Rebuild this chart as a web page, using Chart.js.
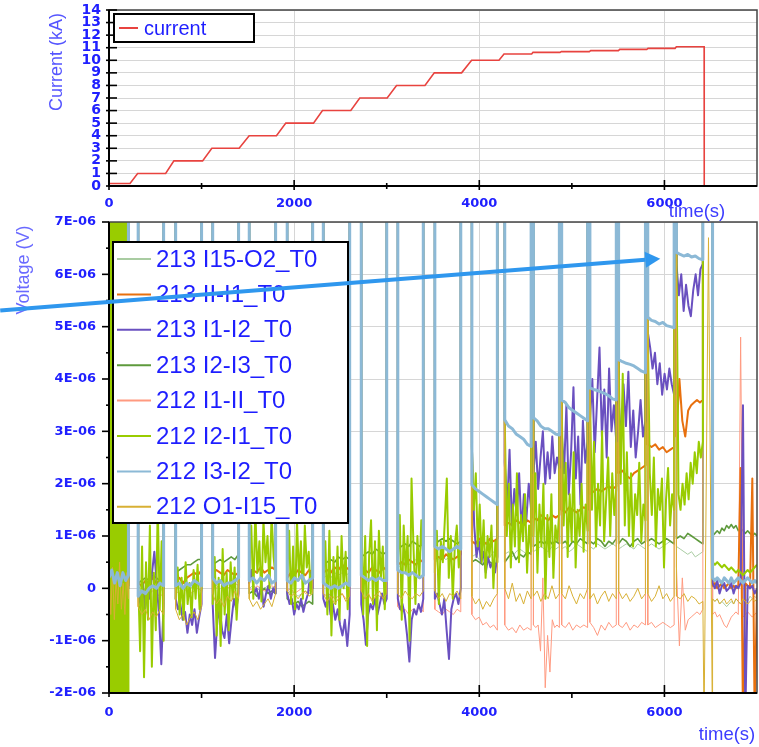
<!DOCTYPE html>
<html>
<head>
<meta charset="utf-8">
<script src="https://cdn.jsdelivr.net/npm/chart.js@4.4.1/dist/chart.umd.min.js"></script>
<style>
  body { margin: 0; background: #fff; }
  #wrap { position: relative; width: 759px; height: 747px; }
  canvas { position: absolute; left: 0; }
  #currentChart { top: 0; }
  #voltageChart { top: 214px; }
</style>
</head>
<body>
<div id="wrap">
  <canvas id="currentChart" width="759" height="225"></canvas>
  <canvas id="voltageChart" width="759" height="533"></canvas>
</div>
<script>
// ---- coil current (kA) ----
const currentTime = [0, 227, 309, 612, 701, 1011, 1111, 1406, 1514, 1809, 1910, 2209, 2306, 2612, 2709,
  3005, 3106, 3413, 3514, 3809, 3917, 4213, 4267, 4566, 4580, 4872, 4886, 5189, 5203, 5503, 5517,
  5809, 5823, 6115, 6129, 6429, 6430];
const currentKA = [0.2, 0.2, 1, 1, 2, 2, 3, 3, 4, 4, 5, 5, 6, 6, 7,
  7, 8, 8, 9, 9, 10, 10, 10.5, 10.5, 10.63, 10.63, 10.69, 10.69, 10.77, 10.77, 10.87,
  10.87, 10.95, 10.95, 11.08, 11.08, 0];

// ---- voltage taps (values in µV) ----
// flat-top plateaus between current ramps, last one is after the dump
const segStart = [0, 315, 720, 1120, 1515, 1925, 2315, 2725, 3120, 3520, 3920, 4275, 4585, 4890, 5195, 5505, 5820, 6130, 6520];
const segEnd   = [210, 590, 1000, 1400, 1800, 2200, 2600, 3000, 3395, 3800, 4195, 4560, 4865, 5170, 5480, 5795, 6105, 6415, 7000];
const offScale = 40; // saturated reading while ramping

const v213_I15_O2 = [
  [0.05, -0.05, 0.1, 0.0, -0.1, 0.05, 0.0, -0.05],
  [0.0, 0.05, -0.05, 0.0, 0.05, 0.0, -0.05, 0.0],
  [0.05, 0.0, 0.1, 0.05, 0.0, 0.05, 0.1, 0.05],
  [0.1, 0.05, 0.15, 0.1, 0.05, 0.1, 0.15, 0.1],
  [0.0, 0.05, 0.0, -0.05, 0.0, 0.05, 0.0, 0.05],
  [-0.1, -0.05, -0.1, -0.15, -0.1, -0.05, -0.1, -0.05],
  [0.2, 0.25, 0.2, 0.3, 0.25, 0.3, 0.25, 0.3],
  [0.3, 0.35, 0.3, 0.4, 0.35, 0.3, 0.35, 0.4],
  [0.4, 0.45, 0.5, 0.45, 0.5, 0.55, 0.5, 0.55],
  [0.5, 0.55, 0.6, 0.55, 0.6, 0.55, 0.6, 0.65],
  [0.6, 0.65, 0.55, 0.6, 0.65, 0.6, 0.7, 0.65],
  [0.65, 0.7, 0.6, 0.7, 0.75, 0.7, 0.65, 0.7],
  [0.7, 0.75, 0.8, 0.75, 0.7, 0.8, 0.75, 0.8],
  [0.75, 0.8, 0.7, 0.75, 0.85, 0.8, 0.75, 0.7],
  [0.8, 0.75, 0.85, 0.8, 0.75, 0.8, 0.85, 0.8],
  [0.75, 0.8, 0.85, 0.8, 0.75, 0.85, 0.8, 0.75],
  [0.8, 0.85, 0.8, 0.75, 0.8, 0.85, 0.9, 0.85],
  [0.8, 0.75, 0.7, 0.65, 0.7, 0.6, 0.65, 0.7],
  [-0.2, -0.25, -0.2, -0.3, -0.25, -0.3, -0.35, -0.3, -0.25, -0.3, -0.2, -0.25, -0.3, -0.25, -0.2, -0.25, -0.15, -0.2, -0.15, -0.2]
];
const v213_II_I1 = [
  [0.1, -0.1, 0.2, 0.0, 0.1, -0.05, 0.15, 0.05],
  [0.1, 0.05, 0.15, 0.1, 0.2, 0.1, 0.15, 0.1],
  [0.15, 0.2, 0.1, 0.2, 0.25, 0.3, 0.25, 0.35],
  [0.3, 0.35, 0.3, 0.25, 0.35, 0.3, 0.25, 0.3],
  [0.25, 0.35, 0.3, 0.4, 0.3, 0.35, 0.4, 0.35],
  [0.2, 0.3, 0.25, 0.35, 0.3, 0.25, 0.35, 0.3],
  [0.3, 0.35, 0.3, 0.4, 0.35, 0.45, 0.4, 0.35],
  [0.3, 0.35, 0.3, 0.4, 0.35, 0.3, 0.4, 0.35],
  [0.45, 0.5, 0.45, 0.55, 0.5, 0.45, 0.55, 0.5],
  [0.55, 0.6, 0.55, 0.65, 0.6, 0.55, 0.6, 0.65],
  [0.9, 0.85, 0.95, 0.9, 0.85, 0.95, 0.9, 0.95],
  [1.2, 1.25, 1.2, 1.3, 1.25, 1.2, 1.3, 1.25],
  [1.35, 1.3, 1.4, 1.35, 1.3, 1.4, 1.35, 1.4],
  [1.5, 1.45, 1.55, 1.5, 1.45, 1.5, 1.55, 1.5],
  [1.8, 1.85, 1.9, 1.85, 1.9, 1.95, 1.9, 1.95],
  [2.2, 2.25, 2.15, 2.1, 2.2, 2.25, 2.3, 2.35],
  [2.75, 2.7, 2.75, 2.65, 2.7, 2.6, 2.65, 2.7],
  [2.9, 4.0, 3.2, 2.9, 3.4, 3.5, 3.55, 3.6, 3.55, 3.6],
  [0.05, 0.1, 0.0, 0.05, 0.1, 0.0, 0.05, 0.1, 0.0, 0.05, 0.0, 0.05, 2.3, -2.5, 0.1, 0.05, 0.0, 2.1, -2.5, 0.0]
];
const v213_I1_I2 = [
  [0.3, -0.5, 0.6, -0.8, 0.4, -0.3, 0.7, -0.6, 0.2, -0.4, 0.5, 0.0],
  [-0.1, -0.3, 0.1, -0.4, 0.0, -0.2, 0.3, 0.7, 0.1, -0.5, -1.45, -0.3],
  [-0.2, -0.4, -0.3, -0.6, -0.45, -0.85, -0.5, -0.7, -0.4, -0.85, -0.55, -0.3],
  [-0.3, -1.33, -0.6, -0.4, -0.8, -0.95, -0.5, -1.05, -0.6, -0.2, -0.4, -0.1],
  [0.1, 0.35, -0.1, 0.0, -0.2, 0.1, -0.35, -0.1, 0.05, -0.2, 0.0, -0.1],
  [-0.1, -0.3, -0.2, -0.5, -0.3, -0.4, -0.2, -0.45, -0.25, -0.1, 0.3, 0.0],
  [-0.2, -0.35, -0.1, -0.5, -0.3, -0.6, -0.4, -0.7, -0.9, -0.6, -1.1, -0.5],
  [-0.3, -0.6, -1.08, -0.5, -0.3, -0.4, -0.2, -0.5, -0.3, -0.1, -0.3, -0.2],
  [-0.2, -0.4, -0.3, -0.5, -0.9, -1.4, -0.6, -0.4, -0.5, -0.3, -0.45, -0.2],
  [-0.2, -0.1, -0.3, -0.5, -0.2, -0.8, -1.35, -0.4, -0.2, -0.1, -0.3, 0.0],
  [2.7, 1.2, 0.6, 0.9, 0.5, 0.7, 0.3, 0.6, 0.4, 0.5, 0.3, 0.6],
  [2.4, 1.5, 2.65, 1.2, 1.9, 1.4, 2.2, 1.1, 1.8, 1.3, 2.0, 1.5],
  [2.2, 2.8, 1.9, 2.5, 3.0, 2.0, 2.6, 2.1, 2.9, 2.2, 2.5, 2.3],
  [3.0, 2.2, 3.5, 1.8, 2.6, 3.84, 2.1, 2.9, 1.6, 3.2, 2.4, 2.8],
  [3.2, 4.0, 2.6, 3.6, 4.6, 2.9, 3.8, 2.5, 4.2, 3.0, 3.5, 2.8],
  [3.6, 2.8, 3.9, 3.1, 4.14, 2.7, 3.4, 2.5, 3.0, 3.6, 2.9, 3.2],
  [4.9, 4.6, 4.2, 4.5, 3.9, 4.3, 3.7, 4.1, 3.8, 4.2, 3.9, 3.7],
  [6.2, 5.6, 6.0, 5.3, 5.8, 5.4, 5.2, 5.7, 6.0, 5.6, 6.1, 6.2],
  [0.1, 0.0, 0.15, -0.1, 0.05, 0.1, -0.05, 0.0, 0.1, -0.1, 0.05, 0.0, 0.1, 3.5, -2.5, 0.05, 0.0, 0.05, -0.1, 0.0]
];
const v213_I2_I3 = [
  [0.1, -0.2, 0.3, 0.0, -0.1, 0.2, 0.0, 0.1],
  [0.1, 0.15, 0.2, 0.15, 0.25, 0.2, 0.15, 0.2],
  [0.3, 0.35, 0.4, 0.45, 0.45, 0.5, 0.55, 0.55],
  [0.45, 0.5, 0.55, 0.5, 0.55, 0.6, 0.55, 0.65],
  [-0.1, -0.05, -0.15, -0.1, 0.0, -0.1, -0.05, -0.1],
  [-0.2, -0.25, -0.3, -0.25, -0.35, -0.3, -0.25, -0.3],
  [0.45, 0.5, 0.55, 0.5, 0.6, 0.55, 0.6, 0.55],
  [0.6, 0.65, 0.7, 0.65, 0.75, 0.7, 0.65, 0.7],
  [0.75, 0.8, 0.85, 0.8, 0.9, 0.85, 0.8, 0.85],
  [0.85, 0.9, 0.95, 0.9, 0.95, 0.9, 0.85, 0.9],
  [0.5, 0.55, 0.5, 0.45, 0.55, 0.5, 0.45, 0.5],
  [0.5, 0.6, 0.7, 0.55, 0.65, 0.6, 0.7, 0.65],
  [0.8, 0.85, 0.9, 0.85, 0.95, 0.85, 0.9, 0.85],
  [0.85, 0.9, 0.8, 0.9, 0.85, 0.95, 0.9, 0.85],
  [0.9, 0.85, 0.95, 0.9, 0.8, 0.9, 0.85, 0.95],
  [0.85, 0.95, 0.9, 0.8, 0.9, 0.95, 0.85, 0.9],
  [0.9, 0.95, 0.9, 0.85, 0.9, 0.95, 0.9, 0.85],
  [0.95, 1.0, 0.95, 1.05, 1.0, 0.95, 0.9, 0.85],
  [1.0, 1.05, 1.1, 1.05, 1.15, 1.1, 1.2, 1.15, 1.22, 1.15, 1.2, 1.1, 1.15, 1.1, 1.05, 1.1, 1.05, 1.0, 1.05, 1.0]
];
const v212_I1_II = [
  [0.1, -0.2, 0.2, -0.1, 0.0, 0.15, -0.15, 0.05],
  [-0.1, -0.05, -0.15, -0.1, -0.05, -0.1, -0.15, -0.1],
  [-0.05, -0.1, 0.0, -0.05, -0.1, -0.05, 0.0, -0.05],
  [0.05, 0.0, 0.1, 0.05, 0.0, 0.05, 0.1, 0.05],
  [0.0, -0.05, 0.05, 0.0, -0.05, 0.0, 0.05, 0.0],
  [-0.05, 0.0, -0.1, -0.05, 0.0, -0.1, -0.05, 0.0],
  [-0.1, -0.15, -0.1, -0.2, -0.15, -0.1, -0.2, -0.15],
  [-0.1, -0.2, -0.15, -0.2, -0.1, -0.15, -0.2, -0.15],
  [-0.35, -0.45, -0.4, -0.5, -0.4, -0.45, -0.35, -0.45],
  [-0.4, -0.45, -0.5, -0.4, -0.45, -0.5, -0.4, -0.45],
  [-0.5, -0.6, -0.55, -0.7, -0.65, -0.75, -0.7, -0.8],
  [-0.7, -0.8, -0.75, -0.85, -0.7, -0.8, -0.75, -0.8],
  [-0.7, -0.75, -0.7, -1.2, 0.2, -1.9, -0.9, -1.6, -0.6, -0.75, -0.7, -0.75],
  [-0.7, -0.75, -0.65, -0.8, -0.7, -0.75, -0.7, -0.75],
  [-0.65, -0.75, -0.9, -0.7, -0.8, -0.65, -0.75, -0.7],
  [-0.7, -0.75, -0.65, -0.8, -0.7, -0.75, -0.65, -0.7],
  [-0.7, -0.65, -0.75, -0.7, -0.65, -0.7, -0.75, -0.7],
  [0.4, -1.1, 0.2, -0.8, -0.6, -0.55, -0.5, -0.45, -0.5, -0.4],
  [-0.5, -0.45, -0.55, -0.5, -0.6, -0.7, -0.75, -0.65, -0.55, -0.5, -0.45, -0.5, 4.8, -0.55, -0.5, -0.45, -0.5, -0.55, -0.5, -0.45]
];
const v212_I2_I1 = [
  [12, -4, 11, -3, 12, -4, 10, -3, 12, -4, 11, -4, 12, -3, 10, -4, 12, -4, 11, -3, 12, -4, 11, -3],
  [0.2, -1.2, 0.8, -1.7, 0.5, -0.6, 1.2, -1.5, 0.3, -0.8, 1.6, -0.4, 0.9, -1.0],
  [-0.2, 0.4, -0.5, 0.2, -0.6, 0.5, -0.3, 0.1, -0.55, 0.35, -0.2, 0.45, -0.4, 0.0],
  [-0.3, 0.6, -0.9, 0.2, -1.1, 0.75, -0.5, 0.3, -0.8, 0.5, -0.2, 0.4, -0.6, 0.1],
  [0.4, 1.2, -0.2, 1.5, 0.3, 0.9, -0.25, 1.3, 0.5, 1.0, 0.0, 1.4, 0.6, 0.2],
  [0.3, 1.1, -0.3, 0.8, -0.4, 1.3, 0.2, 0.9, -0.2, 1.2, 0.4, 0.7, -0.1, 0.5],
  [0.2, 0.9, -0.5, 1.1, -0.9, 0.6, -0.3, 0.8, -0.6, 1.0, 0.0, 0.7, -0.4, 0.3],
  [1.6, -0.5, 1.0, -1.1, 0.6, 1.3, -0.3, 0.9, -0.8, 1.1, 0.2, 0.8, -0.4, 0.5],
  [0.5, 1.4, -0.6, 1.2, 0.3, 1.0, -1.0, 2.1, 0.8, -0.3, 1.0, 0.2, 1.3, 0.6],
  [0.3, 1.1, -0.3, 0.9, 0.5, 1.3, 2.1, 0.2, 1.0, -0.2, 0.8, 1.2, 0.4, 0.9],
  [2.7, 1.5, 2.2, 0.8, 1.6, 0.5, 1.3, 0.2, 1.0, 0.6, 1.2, 0.0, 0.9, 0.5],
  [3.2, 1.0, 2.0, 0.4, 1.6, 0.8, 2.2, 0.5, 1.4, 0.9, 1.8, 0.3, 1.2, 0.7],
  [1.0, 2.2, 0.3, 1.6, 0.8, 2.0, -0.2, 1.4, 0.6, 1.8, 0.2, 1.2, 0.9, 1.5],
  [3.5, 1.2, 2.4, 0.6, 1.8, 0.9, 2.6, 0.4, 1.5, 1.0, 2.0, 0.7, 1.6, 1.1],
  [3.75, 1.5, 2.8, 0.8, 2.0, 1.2, 3.0, 0.9, 1.7, 2.5, 1.0, 2.2, 1.4, 1.9],
  [4.4, 2.0, 4.1, 1.2, 2.6, 1.0, 2.2, 0.8, 1.8, 1.4, 2.4, 0.9, 1.6, 1.3],
  [5.0, 2.2, 1.4, 2.5, 0.8, 1.9, 1.5, 2.1, 0.4, 1.7, 2.3, 1.2, 1.8, 1.5],
  [6.3, 1.8, 1.5, 2.0, 1.6, 2.2, 1.7, 2.4, 2.0, 2.6, 2.2, 2.8, 2.5, 2.8],
  [0.5, 0.45, 0.5, 0.45, 0.4, 0.45, 0.4, 0.35, 0.4, 0.35, 0.3, 0.35, 0.3, 0.25, 0.3, 0.35, 0.3, 0.35, 0.4, 0.45]
];
const v212_I3_I2 = [
  [0.2, 0.35, 0.1, 0.3, 0.05, 0.3, 0.15, 0.25],
  [-0.15, -0.05, -0.1, 0.0, 0.05, 0.0, 0.1, 0.05],
  [0.05, 0.1, 0.0, 0.1, 0.05, 0.15, 0.1, 0.05],
  [0.2, 0.1, 0.15, 0.05, 0.1, 0.1, 0.15, 0.2],
  [0.15, 0.2, 0.1, 0.2, 0.15, 0.25, 0.1, 0.15],
  [0.15, 0.1, 0.2, 0.15, 0.25, 0.1, 0.15, 0.2],
  [0.1, 0.05, 0.0, 0.05, 0.0, 0.05, 0.1, 0.05],
  [0.25, 0.2, 0.15, 0.2, 0.15, 0.2, 0.15, 0.15],
  [0.35, 0.3, 0.3, 0.25, 0.3, 0.25, 0.2, 0.25],
  [0.8, 0.75, 0.8, 0.75, 0.7, 0.75, 0.8, 0.75],
  [1.98, 1.9, 1.85, 1.8, 1.75, 1.7, 1.65, 1.6],
  [3.22, 3.1, 3.05, 2.95, 2.9, 2.85, 2.75, 2.71],
  [3.26, 3.2, 3.1, 3.05, 3.05, 3.0, 2.95, 2.93],
  [3.6, 3.55, 3.45, 3.4, 3.35, 3.3, 3.25, 3.2],
  [3.83, 3.8, 3.78, 3.75, 3.72, 3.68, 3.62, 3.6],
  [4.37, 4.33, 4.3, 4.28, 4.25, 4.2, 4.15, 4.12],
  [5.18, 5.12, 5.1, 5.05, 5.08, 5.02, 5.0, 4.98],
  [6.42, 6.38, 6.35, 6.38, 6.33, 6.35, 6.3, 6.28],
  [0.2, 0.15, 0.2, 0.15, 0.1, 0.2, 0.15, 0.1, 0.2, 0.1, 0.15, 0.2, 0.15, 0.1, 0.15, 0.2, 0.15, 0.1, 0.15, 0.1]
];
const v212_O1_I15 = [
  [0.3, -0.5, 0.4, -0.6, 0.2, -0.3, 0.5, -0.4, 0.1, -0.5, 0.3, -0.2],
  [-0.35, -0.5, -0.4, -0.6, -0.45, -0.55, -0.4, -0.5],
  [-0.4, -0.6, -0.5, -0.7, -0.55, -0.45, -0.6, -0.35],
  [-0.1, -0.3, -0.2, -0.35, -0.15, -0.25, -0.05, -0.2],
  [-0.2, -0.35, -0.25, -0.4, -0.3, -0.2, -0.35, -0.1],
  [-0.05, -0.15, -0.1, -0.2, -0.1, -0.05, -0.15, -0.1],
  [-0.1, -0.25, -0.15, -0.3, -0.2, -0.1, -0.25, -0.15],
  [-0.05, -0.2, -0.1, -0.25, -0.15, -0.05, -0.2, -0.1],
  [-0.1, -0.2, -0.05, -0.15, -0.2, -0.1, -0.15, -0.05],
  [-0.05, -0.2, -0.1, -0.25, -0.1, -0.15, -0.05, -0.2],
  [-0.15, -0.3, -0.2, -0.4, -0.25, -0.35, -0.2, -0.1],
  [0.0, -0.2, 0.1, -0.25, -0.1, -0.3, -0.05, -0.2],
  [-0.15, -0.05, -0.25, -0.1, -0.2, 0.05, -0.2, -0.1],
  [-0.1, -0.2, 0.05, -0.15, -0.3, -0.1, -0.2, 0.0],
  [-0.2, -0.1, -0.3, -0.15, -0.05, -0.25, -0.1, -0.2],
  [-0.05, -0.2, -0.1, -0.25, -0.15, 0.0, -0.2, -0.1],
  [-0.1, -0.25, -0.15, 0.05, -0.2, -0.1, -0.25, -0.15],
  [-0.15, -0.2, -0.1, -0.25, -0.15, -0.2, -0.3, -0.25],
  [-0.2, -0.25, -0.2, -0.3, -0.25, -0.2, -0.3, -0.25, -0.2, -0.3, -0.2, -0.25, -0.3, -0.2, -0.25, -0.3, -0.25, -0.2, -0.25, -0.2]
];
// O1-I15 pulse during the dump
const dumpTimeO1 = [6428, 6476, 6518];
const dumpVoltO1 = [-2.6, 6.7, -2.6];

// annotation arrow (data coordinates)
const arrowTail = { t: -1175, v: 5.31 };
const arrowTip = { t: 5955, v: 6.30 };

function buildSeries(segs, dump) {
  const pts = [];
  const last = segs.length - 1;
  segs.forEach((vals, i) => {
    if (i > 0) {
      if (dump && i === last) {
        dump.t.forEach((t, k) => pts.push({ x: t, y: dump.v[k] * 1e-6 }));
      } else {
        pts.push({ x: segEnd[i - 1], y: offScale * 1e-6 });
        pts.push({ x: segStart[i], y: offScale * 1e-6 });
      }
    }
    const step = (segEnd[i] - segStart[i]) / (vals.length - 1);
    vals.forEach((v, k) => pts.push({ x: segStart[i] + k * step, y: v * 1e-6 }));
  });
  return pts;
}

const tickFont = { family: 'DejaVu Sans', weight: 'bold', size: 13 };
const tickBlue = '#2020ff';
const gridGray = '#d6d6d6';

function seg(ctx, x1, y1, x2, y2) {
  ctx.beginPath(); ctx.moveTo(x1, y1); ctx.lineTo(x2, y2); ctx.stroke();
}

function drawFrame(chart, o) {
  const { ctx, chartArea: a, scales: { x, y } } = chart;
  ctx.save();
  ctx.strokeStyle = '#444'; ctx.lineWidth = 1.5;
  ctx.strokeRect(a.left, a.top, a.right - a.left, a.bottom - a.top);
  ctx.strokeStyle = '#000'; ctx.lineWidth = 2;
  seg(ctx, a.left, a.top, a.left, a.bottom);
  seg(ctx, a.left, a.bottom, a.right, a.bottom);
  ctx.lineWidth = 1.6;
  x.ticks.forEach(t => {
    if (t.value >= 7000) return;
    const px = x.getPixelForValue(t.value);
    const r = t.value % 2000 === 0 ? o.xMajor : o.xMinor;
    seg(ctx, px, a.bottom - r[0], px, a.bottom + r[1]);
  });
  y.ticks.forEach((t, i) => {
    const py = y.getPixelForValue(t.value);
    seg(ctx, a.left - o.yMajor[0], py, a.left + o.yMajor[1], py);
    if (o.yMinor && i < y.ticks.length - 1) {
      const pm = (py + y.getPixelForValue(y.ticks[i + 1].value)) / 2;
      seg(ctx, a.left - o.yMinor[0], pm, a.left + o.yMinor[1], pm);
    }
  });
  ctx.restore();
}

function drawText(ctx, text, x, y, font, color, rot) {
  ctx.save();
  ctx.font = font; ctx.fillStyle = color;
  ctx.textAlign = 'center'; ctx.textBaseline = 'middle';
  ctx.translate(x, y);
  if (rot) ctx.rotate(-Math.PI / 2);
  ctx.fillText(text, 0, 0);
  ctx.restore();
}

function legendBox(ctx, left, top, w, h, items, rowH, font, firstRow) {
  ctx.save();
  ctx.fillStyle = '#fff';
  ctx.fillRect(left, top, w, h);
  ctx.strokeStyle = '#000'; ctx.lineWidth = 2;
  ctx.strokeRect(left, top, w, h);
  ctx.font = font; ctx.textBaseline = 'middle'; ctx.textAlign = 'left';
  items.forEach((it, i) => {
    const cy = top + firstRow + i * rowH;
    ctx.strokeStyle = it.color; ctx.lineWidth = 2;
    seg(ctx, left + it.x0, cy, left + it.x1, cy);
    ctx.fillStyle = '#1e1eff';
    ctx.fillText(it.label, left + it.tx, cy + 1);
  });
  ctx.restore();
}

const topDecor = {
  id: 'topDecor',
  afterDraw(chart) {
    const { ctx, chartArea: a } = chart;
    drawFrame(chart, { xMajor: [6, 4], xMinor: [3, 3], yMajor: [3, 8] });
    drawText(ctx, 'Current (kA)', 57, 62, '18px "Liberation Sans", Arial', '#5555ff', true);
    drawText(ctx, 'time(s)', 697, 212, '18.5px "Liberation Sans", Arial', '#3c3cff');
    const d = chart.data.datasets[0];
    legendBox(ctx, a.left + 5, a.top + 4, 140, 28,
      [{ label: d.label, color: d.borderColor, x0: 5, x1: 24, tx: 30 }], 0, '20px "Liberation Sans", Arial', 14);
  }
};

const bottomDecor = {
  id: 'bottomDecor',
  afterDraw(chart) {
    const { ctx, chartArea: a, scales: { x, y } } = chart;
    drawFrame(chart, { xMajor: [8, 4], xMinor: [0, 5], yMajor: [7, 0], yMinor: [3, 0] });
    drawText(ctx, 'Voltage (V)', 24, 56, '18px "Liberation Sans", Arial', '#6a6aff', true);
    drawText(ctx, 'time(s)', 727, 521, '18.5px "Liberation Sans", Arial', '#3c3cff');
    const items = chart.data.datasets.map(d => ({ label: d.label, color: d.borderColor, x0: 4, x1: 38, tx: 43 }));
    legendBox(ctx, a.left + 4, a.top + 20, 235, 281, items, 35.4, '24px "Liberation Sans", Arial', 17);

    // arrow
    const x0 = x.getPixelForValue(arrowTail.t), y0 = y.getPixelForValue(arrowTail.v * 1e-6);
    const x1 = x.getPixelForValue(arrowTip.t), y1 = y.getPixelForValue(arrowTip.v * 1e-6);
    const ang = Math.atan2(y1 - y0, x1 - x0);
    const hl = 15, hw = 8;
    const bx = x1 - hl * Math.cos(ang), by = y1 - hl * Math.sin(ang);
    ctx.save();
    ctx.strokeStyle = '#2f97ee'; ctx.fillStyle = '#2f97ee'; ctx.lineWidth = 4;
    seg(ctx, x0, y0, bx, by);
    ctx.beginPath();
    ctx.moveTo(x1, y1);
    ctx.lineTo(bx + hw * Math.sin(ang), by - hw * Math.cos(ang));
    ctx.lineTo(bx - hw * Math.sin(ang), by + hw * Math.cos(ang));
    ctx.closePath(); ctx.fill();
    ctx.restore();
  }
};

// fixed plot rectangles: no extra room for overhanging end labels
const fixX = h => s => { s.height = h; s.paddingLeft = 0; s.paddingRight = 0; };
const fixY = w => s => { s.width = w; s.paddingTop = 0; s.paddingBottom = 0; };

const xTime = {
  type: 'linear', min: 0, max: 7000,
  border: { display: false },
  grid: { drawTicks: false, color: c => c.tick && c.tick.value % 2000 === 0 ? gridGray : 'rgba(0,0,0,0)' },
  ticks: {
    stepSize: 1000, autoSkip: false, maxRotation: 0, color: tickBlue, font: tickFont,
    callback: v => v % 2000 === 0 && v < 7000 ? String(v) : ''
  }
};

new Chart(document.getElementById('currentChart'), {
  type: 'line',
  data: {
    datasets: [{
      label: 'current',
      data: currentTime.map((t, i) => ({ x: t, y: currentKA[i] })),
      borderColor: '#e8433f', borderWidth: 1.6, pointRadius: 0, tension: 0
    }]
  },
  options: {
    responsive: false, animation: false, events: [], devicePixelRatio: 1,
    layout: { padding: { left: 0, right: 2, top: 10, bottom: 0 } },
    plugins: { legend: { display: false }, tooltip: { enabled: false } },
    scales: {
      x: Object.assign({}, xTime, {
        ticks: Object.assign({}, xTime.ticks, { padding: 10 }),
        afterFit: fixX(39)
      }),
      y: {
        min: 0, max: 14,
        border: { display: false },
        grid: { drawTicks: false, color: gridGray },
        ticks: { stepSize: 1, autoSkip: false, padding: 8, color: tickBlue,
          font: { family: 'DejaVu Sans', weight: 'bold', size: 14 } },
        afterFit: fixY(109)
      }
    }
  },
  plugins: [topDecor]
});

const taps = [
  { label: '213 I15-O2_T0', segs: v213_I15_O2, color: '#a9cca2', width: 1, order: 7 },
  { label: '213 II-I1_T0', segs: v213_II_I1, color: '#e8700e', width: 2, order: 4 },
  { label: '213 I1-I2_T0', segs: v213_I1_I2, color: '#6a50c0', width: 2, order: 3 },
  { label: '213 I2-I3_T0', segs: v213_I2_I3, color: '#5e9a3c', width: 1.6, order: 6 },
  { label: '212 I1-II_T0', segs: v212_I1_II, color: '#ff9a80', width: 1, order: 5 },
  { label: '212 I2-I1_T0', segs: v212_I2_I1, color: '#99cc00', width: 2, order: 2 },
  { label: '212 I3-I2_T0', segs: v212_I3_I2, color: '#8cb9d6', width: 3, order: 0 },
  { label: '212 O1-I15_T0', segs: v212_O1_I15, color: '#d8b034', width: 1, order: 1,
    dump: { t: dumpTimeO1, v: dumpVoltO1 } }
];

new Chart(document.getElementById('voltageChart'), {
  type: 'line',
  data: {
    datasets: taps.map(s => ({
      label: s.label,
      data: buildSeries(s.segs, s.dump),
      borderColor: s.color, borderWidth: s.width, order: s.order,
      pointRadius: 0, tension: 0, borderJoinStyle: 'round'
    }))
  },
  options: {
    responsive: false, animation: false, events: [], devicePixelRatio: 1,
    layout: { padding: { left: 0, right: 2, top: 8, bottom: 0 } },
    plugins: { legend: { display: false }, tooltip: { enabled: false } },
    scales: {
      x: Object.assign({}, xTime, {
        ticks: Object.assign({}, xTime.ticks, { padding: 12 }),
        afterFit: fixX(54)
      }),
      y: {
        min: -2e-6, max: 7e-6,
        border: { display: false },
        grid: { drawTicks: false, color: gridGray },
        ticks: {
          stepSize: 1e-6, autoSkip: false, padding: 13, color: tickBlue, font: tickFont,
          callback: v => {
            const n = Math.round(v * 1e6);
            return n === 0 ? '0' : n + 'E-06';
          }
        },
        afterFit: fixY(109)
      }
    }
  },
  plugins: [bottomDecor]
});
</script>
</body>
</html>
